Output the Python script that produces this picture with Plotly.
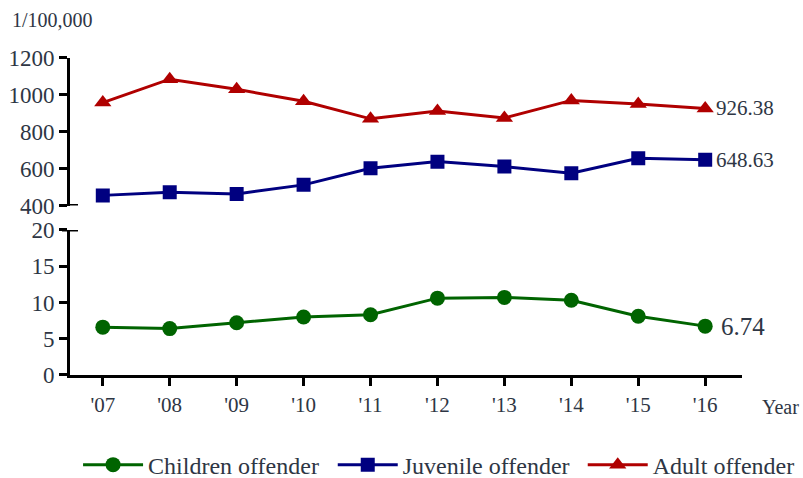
import plotly.graph_objects as go

# Offender rates per 100,000 population, 2007-2016
years = ["'07", "'08", "'09", "'10", "'11", "'12", "'13", "'14", "'15", "'16"]
children = [6.6, 6.4, 7.2, 8.0, 8.3, 10.6, 10.7, 10.3, 8.1, 6.74]
juvenile = [455, 472, 463, 512, 602, 638, 611, 575, 656, 648.63]
adult = [958, 1085, 1030, 965, 870, 912, 875, 970, 950, 926.38]

top_ticks = [400, 600, 800, 1000, 1200]
bottom_ticks = [0, 5, 10, 15, 20]

FONT = "Liberation Serif, Times New Roman, serif"
TXT = "#2e3644"
RED = "#b00000"
BLUE = "#000080"
GREEN = "#006400"

x = list(range(len(years)))

fig = go.Figure()

fig.add_trace(go.Scatter(
    x=x, y=children, name="Children offender", mode="lines+markers",
    line=dict(color=GREEN, width=3),
    marker=dict(symbol="circle", size=15, color=GREEN),
    xaxis="x", yaxis="y", legend="legend",
))
fig.add_trace(go.Scatter(
    x=x, y=juvenile, name="Juvenile offender", mode="lines+markers",
    line=dict(color=BLUE, width=3),
    marker=dict(symbol="square", size=14, color=BLUE),
    xaxis="x", yaxis="y2", legend="legend2",
))
fig.add_trace(go.Scatter(
    x=x, y=adult, name="Adult offender", mode="lines+markers",
    line=dict(color=RED, width=3),
    marker=dict(symbol="triangle-up", size=15, color=RED),
    xaxis="x", yaxis="y2", legend="legend3",
))

axis_common = dict(
    showline=True, linecolor="black", linewidth=3,
    ticks="outside", ticklen=8, tickwidth=3, tickcolor="black",
    showgrid=False, zeroline=False,
)
y_font = dict(family=FONT, size=23, color=TXT)
x_font = dict(family=FONT, size=21, color=TXT)

legend_common = dict(
    orientation="h", xanchor="left", y=-0.277, yanchor="middle",
    font=dict(family=FONT, size=24, color=TXT),
    itemwidth=60, bgcolor="rgba(0,0,0,0)",
)

fig.update_layout(
    width=803, height=478,
    margin=dict(l=70, r=61, t=50, b=103, autoexpand=False),
    paper_bgcolor="white", plot_bgcolor="white",
    font=dict(family=FONT, color=TXT),
    xaxis=dict(
        range=[-0.49, 9.55], tickvals=x, ticktext=years,
        anchor="y", ticklabelstandoff=1, tickfont=x_font, **axis_common,
    ),
    yaxis=dict(
        domain=[0, 0.4462], range=[0, 20], tickvals=bottom_ticks,
        anchor="x", ticklabelstandoff=0, tickfont=y_font, **axis_common,
    ),
    yaxis2=dict(
        domain=[0.5215, 0.9754], range=[400, 1200], tickvals=top_ticks,
        anchor="x", ticklabelstandoff=0, tickfont=y_font, **axis_common,
    ),
    showlegend=True,
    legend=dict(x=0.012, **legend_common),
    legend2=dict(x=0.391, **legend_common),
    legend3=dict(x=0.763, **legend_common),
)

# Break marks crossing the axis at the ends of the split
fig.add_shape(type="line", xref="paper", xsizemode="pixel", xanchor=0,
              x0=-8, x1=8, yref="y2", y0=400, y1=400,
              line=dict(color="black", width=3))
fig.add_shape(type="line", xref="paper", xsizemode="pixel", xanchor=0,
              x0=-8, x1=8, yref="y", y0=20, y1=20,
              line=dict(color="black", width=3))

# End-of-series value labels
fig.add_annotation(x=x[-1], y=adult[-1], xref="x", yref="y2",
                   text=f"{adult[-1]:.2f}", showarrow=False,
                   xanchor="left", xshift=9,
                   font=dict(family=FONT, size=21, color=TXT))
fig.add_annotation(x=x[-1], y=juvenile[-1], xref="x", yref="y2",
                   text=f"{juvenile[-1]:.2f}", showarrow=False,
                   xanchor="left", xshift=9,
                   font=dict(family=FONT, size=21, color=TXT))
fig.add_annotation(x=x[-1], y=children[-1], xref="x", yref="y",
                   text=f"{children[-1]:.2f}", showarrow=False,
                   xanchor="left", xshift=14,
                   font=dict(family=FONT, size=25, color=TXT))

# Unit and axis captions
fig.add_annotation(x=-0.089, y=1.092, xref="paper", yref="paper",
                   text="1/100,000", showarrow=False, xanchor="left",
                   yanchor="middle",
                   font=dict(family=FONT, size=20, color=TXT))
fig.add_annotation(x=1.027, y=-0.098, xref="paper", yref="paper",
                   text="Year", showarrow=False, xanchor="left",
                   yanchor="middle",
                   font=dict(family=FONT, size=20, color=TXT))

fig.write_html("out.html")
